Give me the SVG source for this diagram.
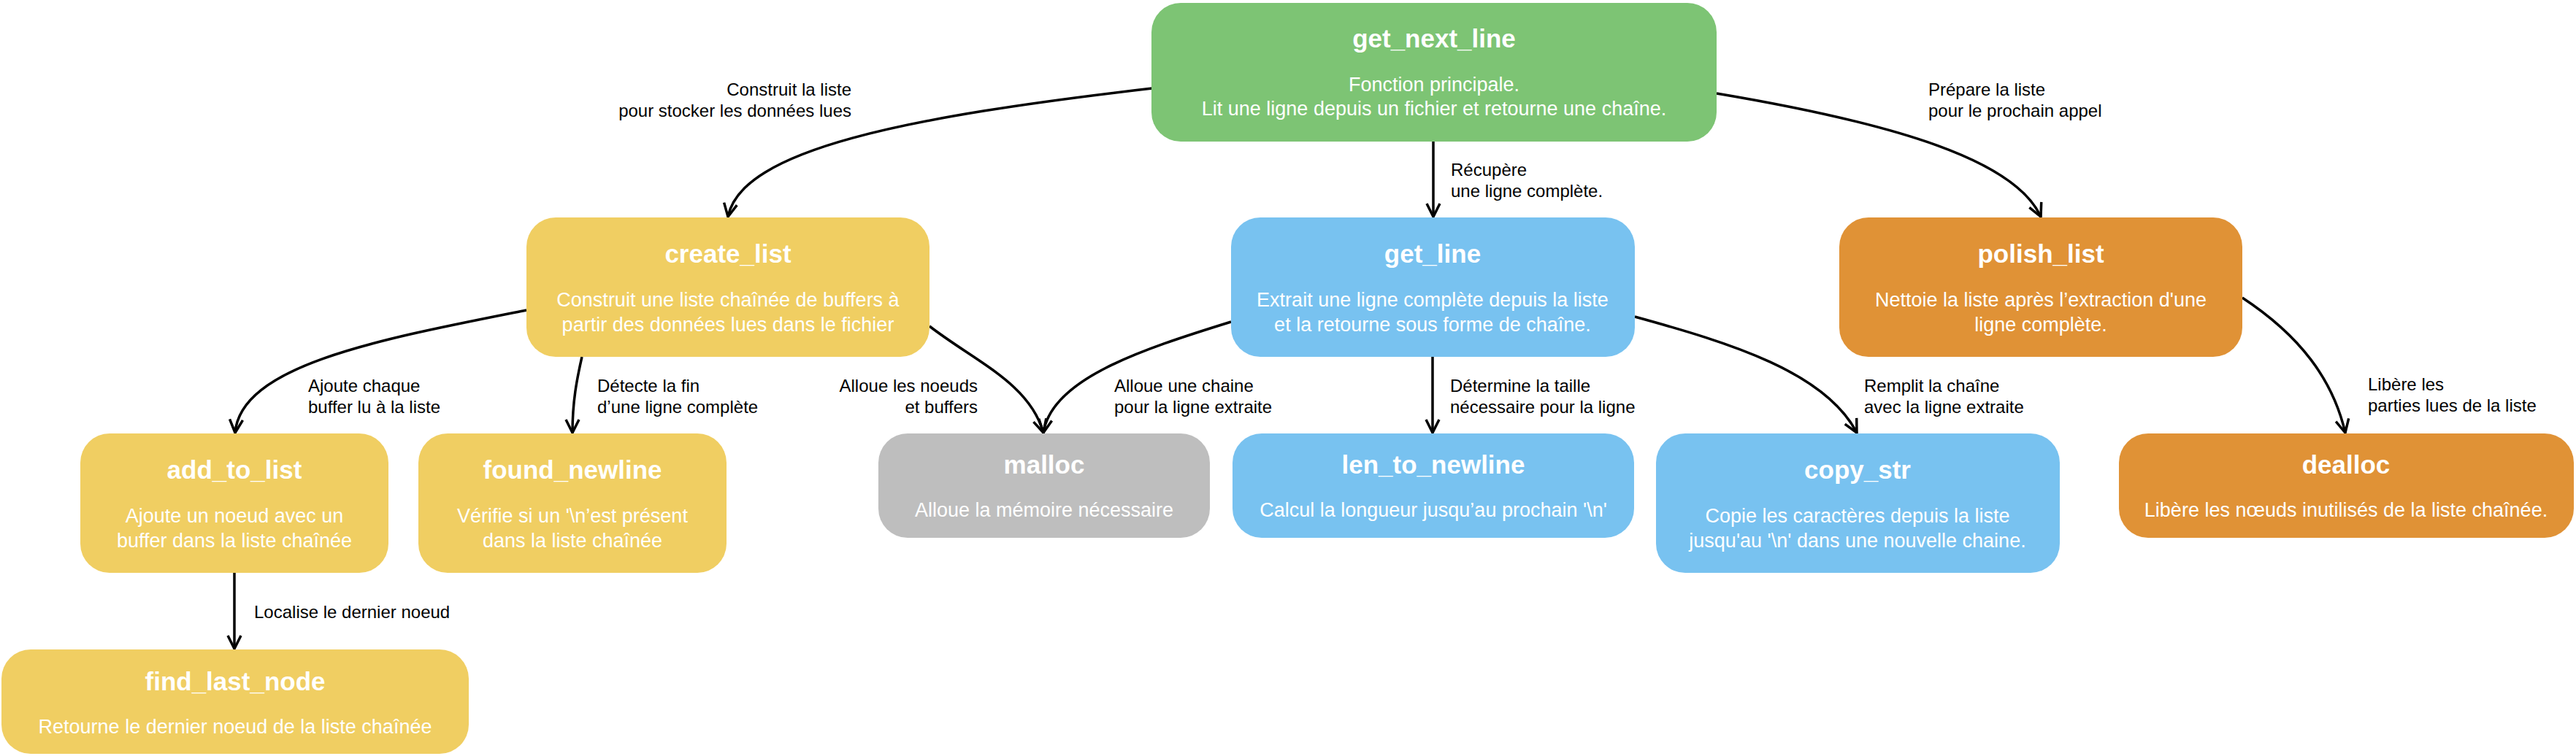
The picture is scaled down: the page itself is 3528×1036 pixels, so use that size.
<svg xmlns="http://www.w3.org/2000/svg" width="3528" height="1036" viewBox="0 0 3528 1036">
<style>
.box{stroke:none}
.green{fill:#7dc474}
.yellow{fill:#f0ce62}
.blue{fill:#78c2f0}
.orange{fill:#e09236}
.grey{fill:#bebebe}
.title{font-family:"Liberation Sans",Arial,sans-serif;font-weight:bold;font-size:35px;fill:#ffffff;text-anchor:middle}
.sub{font-family:"Liberation Sans",Arial,sans-serif;font-size:27px;fill:#ffffff;text-anchor:middle}
.lbl{font-family:"Liberation Sans",Arial,sans-serif;font-size:24px;fill:#000000}
.end{text-anchor:end}
.edge{fill:none;stroke:#000000;stroke-width:3.5;marker-end:url(#arr)}
</style>
<defs>
<marker id="arr" markerUnits="userSpaceOnUse" viewBox="0 0 24 24" refX="21" refY="12" markerWidth="24" markerHeight="24" orient="auto">
<path d="M3,3 L21,12 L3,21" fill="none" stroke="#000000" stroke-width="3.5" stroke-linejoin="miter"/>
</marker>
</defs>
<rect width="3528" height="1036" fill="#ffffff"/>

<g id="connectors">
<path class="edge" d="M1578,121 C1240,160 1015,205 997,297"/>
<path class="edge" d="M1963,194 L1963,297"/>
<path class="edge" d="M2351,128 C2600,170 2760,220 2795,297"/>
<path class="edge" d="M721,425 C520,465 330,500 322,593"/>
<path class="edge" d="M797,489 C790,520 784,550 784,593"/>
<path class="edge" d="M1273,447 C1335,495 1410,525 1429,593"/>
<path class="edge" d="M1686,441 C1560,480 1440,520 1429,593"/>
<path class="edge" d="M1962,488 L1962,593"/>
<path class="edge" d="M2239,434 C2370,470 2500,510 2543,593"/>
<path class="edge" d="M3071,408 C3150,460 3195,520 3212,593"/>
<path class="edge" d="M321,785 L321,889"/>
<text class="lbl end" x="1166" y="131">Construit la liste</text>
<text class="lbl end" x="1166" y="160">pour stocker les données lues</text>
<text class="lbl" x="1987" y="241">Récupère</text>
<text class="lbl" x="1987" y="270">une ligne complète.</text>
<text class="lbl" x="2641" y="131">Prépare la liste</text>
<text class="lbl" x="2641" y="160">pour le prochain appel</text>
<text class="lbl" x="422" y="537">Ajoute chaque</text>
<text class="lbl" x="422" y="566">buffer lu à la liste</text>
<text class="lbl" x="818" y="537">Détecte la fin</text>
<text class="lbl" x="818" y="566">d’une ligne complète</text>
<text class="lbl end" x="1339" y="537">Alloue les noeuds</text>
<text class="lbl end" x="1339" y="566">et buffers</text>
<text class="lbl" x="1526" y="537">Alloue une chaine</text>
<text class="lbl" x="1526" y="566">pour la ligne extraite</text>
<text class="lbl" x="1986" y="537">Détermine la taille</text>
<text class="lbl" x="1986" y="566">nécessaire pour la ligne</text>
<text class="lbl" x="2553" y="537">Remplit la chaîne</text>
<text class="lbl" x="2553" y="566">avec la ligne extraite</text>
<text class="lbl" x="3243" y="535">Libère les</text>
<text class="lbl" x="3243" y="564">parties lues de la liste</text>
<text class="lbl" x="348" y="847">Localise le dernier noeud</text>
</g>

<g id="get_next_line">
<rect class="box green" x="1577" y="4" width="774" height="190" rx="40"/>
<text class="title" x="1964" y="65">get_next_line</text>
<text class="sub" x="1964" y="125">Fonction principale.</text>
<text class="sub" x="1964" y="158">Lit une ligne depuis un fichier et retourne une chaîne.</text>
</g>

<g id="create_list">
<rect class="box yellow" x="721" y="298" width="552" height="191" rx="40"/>
<text class="title" x="997" y="360">create_list</text>
<text class="sub" x="997" y="420">Construit une liste chaînée de buffers à</text>
<text class="sub" x="997" y="454">partir des données lues dans le fichier</text>
</g>

<g id="get_line">
<rect class="box blue" x="1686" y="298" width="553" height="191" rx="40"/>
<text class="title" x="1962" y="360">get_line</text>
<text class="sub" x="1962" y="420">Extrait une ligne complète depuis la liste</text>
<text class="sub" x="1962" y="454">et la retourne sous forme de chaîne.</text>
</g>

<g id="polish_list">
<rect class="box orange" x="2519" y="298" width="552" height="191" rx="40"/>
<text class="title" x="2795" y="360">polish_list</text>
<text class="sub" x="2795" y="420">Nettoie la liste après l’extraction d'une</text>
<text class="sub" x="2795" y="454">ligne complète.</text>
</g>

<g id="add_to_list">
<rect class="box yellow" x="110" y="594" width="422" height="191" rx="40"/>
<text class="title" x="321" y="656">add_to_list</text>
<text class="sub" x="321" y="716">Ajoute un noeud avec un</text>
<text class="sub" x="321" y="750">buffer dans la liste chaînée</text>
</g>

<g id="found_newline">
<rect class="box yellow" x="573" y="594" width="422" height="191" rx="40"/>
<text class="title" x="784" y="656">found_newline</text>
<text class="sub" x="784" y="716">Vérifie si un '\n’est présent</text>
<text class="sub" x="784" y="750">dans la liste chaînée</text>
</g>

<g id="malloc">
<rect class="box grey" x="1203" y="594" width="454" height="143" rx="40"/>
<text class="title" x="1430" y="649">malloc</text>
<text class="sub" x="1430" y="708">Alloue la mémoire nécessaire</text>
</g>

<g id="len_to_newline">
<rect class="box blue" x="1688" y="594" width="550" height="143" rx="40"/>
<text class="title" x="1963" y="649">len_to_newline</text>
<text class="sub" x="1963" y="708">Calcul la longueur jusqu’au prochain '\n'</text>
</g>

<g id="copy_str">
<rect class="box blue" x="2268" y="594" width="553" height="191" rx="40"/>
<text class="title" x="2544" y="656">copy_str</text>
<text class="sub" x="2544" y="716">Copie les caractères depuis la liste</text>
<text class="sub" x="2544" y="750">jusqu'au '\n' dans une nouvelle chaine.</text>
</g>

<g id="dealloc">
<rect class="box orange" x="2902" y="594" width="623" height="143" rx="40"/>
<text class="title" x="3213" y="649">dealloc</text>
<text class="sub" x="3213" y="708">Libère les nœuds inutilisés de la liste chaînée.</text>
</g>

<g id="find_last_node">
<rect class="box yellow" x="2" y="890" width="640" height="143" rx="40"/>
<text class="title" x="322" y="946">find_last_node</text>
<text class="sub" x="322" y="1005">Retourne le dernier noeud de la liste chaînée</text>
</g>
</svg>
